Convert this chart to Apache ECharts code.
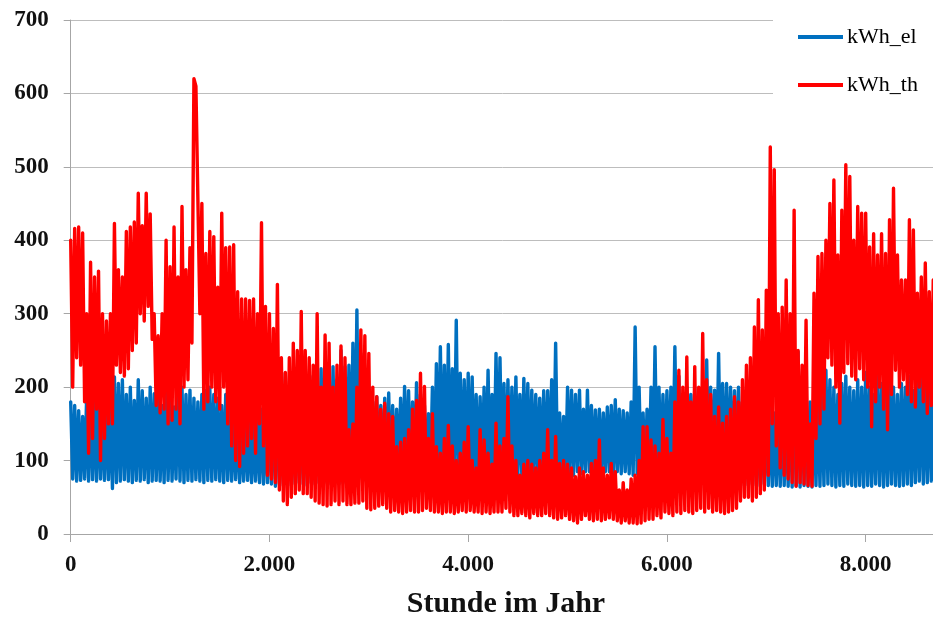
<!DOCTYPE html>
<html>
<head>
<meta charset="utf-8">
<script src="https://cdn.jsdelivr.net/npm/echarts@6/dist/echarts.min.js"></script>
<style>
html,body{margin:0;padding:0;background:#fff;}
#chart{width:933px;height:619px;}
</style>
</head>
<body>
<div id="chart"></div>
<script>
// Per 40-hour window, the peak and the trough of each series.
var windowHours = 40;
var xTicks = [0, 2000, 4000, 6000, 8000];
var yTicks = [0, 100, 200, 300, 400, 500, 600, 700];
var seriesNames = ['kWh_el', 'kWh_th'];

var thHigh = [
  400,416,418,410,300,370,350,358,300,290,
  300,423,360,350,412,418,425,464,420,464,
  436,300,270,300,400,364,418,350,446,360,
  390,620,612,450,382,412,405,336,437,390,
  391,394,330,320,320,318,320,300,424,310,
  300,280,340,240,220,240,260,250,303,250,
  240,230,300,200,271,260,200,230,256,240,
  142,150,200,278,270,246,200,187,170,178,
  164,160,119,125,130,142,170,182,219,201,
  130,164,119,110,130,148,120,100,110,125,
  146,100,90,142,128,110,95,151,120,130,
  187,120,100,80,95,100,95,90,100,110,
  142,100,133,96,100,95,90,78,90,85,
  80,96,100,128,90,80,96,85,60,70,
  60,75,80,100,146,146,128,120,110,156,
  130,110,180,223,200,241,180,228,200,273,
  210,190,160,173,151,160,170,187,180,210,
  230,240,282,319,278,332,527,496,300,309,
  346,300,441,250,230,291,150,328,378,382,
  400,450,482,380,441,503,487,400,446,437,
  437,391,409,380,409,382,428,471,380,346,
  346,428,414,328,350,369,330,346,300
];
var thLow = [
  200,240,230,180,110,130,170,100,130,150,
  150,230,220,215,225,250,260,300,290,310,
  265,175,165,170,150,155,170,150,200,210,
  260,610,300,170,180,200,180,170,200,150,
  120,100,92,110,120,130,110,150,120,80,
  75,70,60,45,40,50,55,60,55,55,
  50,45,42,40,38,40,45,40,45,40,
  40,42,42,45,35,33,35,38,40,35,
  30,32,30,28,30,32,30,30,32,35,
  32,30,30,28,30,30,28,30,32,30,
  32,30,30,28,30,28,30,30,30,35,
  30,25,25,28,25,22,28,25,25,28,
  25,22,20,22,25,20,18,15,20,25,
  20,18,20,18,20,22,20,18,15,18,
  15,15,14,15,18,20,20,25,22,30,
  28,25,30,28,32,30,28,32,35,30,
  35,30,32,30,28,30,32,35,45,50,
  50,45,50,55,60,80,150,120,90,80,
  75,70,65,70,68,66,65,130,150,170,
  240,230,200,151,220,232,215,210,225,210,
  200,146,180,200,170,142,190,223,200,210,
  190,180,173,200,180,164,175,170,180
];
var elHigh = [
  180,175,168,160,185,196,182,187,175,178,
  180,214,205,210,190,200,182,210,195,185,
  200,191,185,175,200,190,173,214,200,190,
  196,185,180,190,196,200,190,185,175,190,
  175,160,165,150,160,155,150,160,170,165,
  190,200,210,180,219,200,190,205,195,210,
  200,215,205,225,210,219,228,210,250,228,
  230,260,305,246,210,200,180,187,175,185,
  192,175,170,185,201,195,180,206,190,175,
  164,200,232,255,230,258,225,291,219,210,
  219,214,190,187,200,223,190,246,240,205,
  210,200,214,190,212,205,196,190,185,195,
  195,210,260,165,160,200,196,190,196,170,
  196,175,169,170,165,173,175,183,170,168,
  165,180,282,200,165,170,200,255,200,190,
  195,200,255,215,190,200,190,200,185,195,
  237,200,196,246,205,205,200,195,200,180,
  190,185,180,175,170,185,175,165,175,180,
  190,210,230,248,200,190,180,175,185,200,
  223,210,200,190,205,215,200,195,210,200,
  220,200,190,215,205,195,210,200,190,205,
  200,215,195,210,220,200,205,190,210
];
var elLow = [
  75,72,73,75,72,74,72,75,73,74,
  62,70,72,74,72,70,73,72,74,70,
  72,73,72,70,73,72,75,72,70,73,
  72,74,72,70,73,72,74,72,70,73,
  72,74,70,72,73,70,72,70,68,70,
  68,65,68,66,68,66,68,70,68,66,
  70,68,70,68,70,68,70,68,70,72,
  70,72,75,72,75,70,75,78,72,75,
  75,78,75,76,78,80,78,80,78,80,
  80,75,78,70,75,78,80,75,80,78,
  80,78,75,80,78,80,78,76,80,78,
  80,78,80,78,80,78,80,80,78,80,
  80,78,80,82,80,82,80,85,82,85,
  85,82,85,82,85,85,80,85,82,85,
  82,80,82,80,78,80,82,80,82,80,
  80,82,80,82,80,82,80,82,80,82,
  80,82,80,82,80,78,75,72,68,66,
  66,68,66,65,68,66,65,66,65,66,
  65,64,66,64,66,65,64,66,65,66,
  68,66,64,66,65,68,66,65,66,64,
  66,65,68,66,64,66,68,66,65,66,
  68,66,70,72,68,70,72,70,74
];

function buildSeriesData(high, low) {
  var out = [];
  for (var k = 0; k < high.length; k++) {
    out.push([k * windowHours, high[k]]);
    out.push([k * windowHours + windowHours / 2, low[k]]);
  }
  return out;
}

function fmtDe(v) {
  if (xTicks.indexOf(v) < 0) return '';
  return String(v).replace(/\B(?=(\d{3})+(?!\d))/g, '.');
}

var serif = 'Liberation Serif, Times New Roman, serif';
var axisGray = '#a6a6a6';

var chart = echarts.init(document.getElementById('chart'), null, {renderer: 'canvas'});
chart.setOption({
  animation: false,
  backgroundColor: '#ffffff',
  grid: {left: 70.7, right: -8.2, top: 20, bottom: 85, containLabel: false, outerBoundsMode: 'none'},
  legend: {
    data: seriesNames,
    orient: 'vertical',
    left: 773, top: 14,
    padding: [12, 30, 8, 25],
    icon: 'rect',
    itemWidth: 45, itemHeight: 4, itemGap: 26,
    backgroundColor: '#ffffff',
    textStyle: {fontFamily: serif, fontSize: 22, color: '#000', padding: [0, 0, 0, -1]}
  },
  xAxis: {
    type: 'value', min: 0, max: 8760, interval: 2000,
    axisLine: {show: true, lineStyle: {color: axisGray, width: 1}},
    axisTick: {show: true, inside: false, length: 8, lineStyle: {color: axisGray}},
    splitLine: {show: false},
    axisLabel: {margin: 20, fontFamily: serif, fontWeight: 'bold', fontSize: 23, color: '#111',
      formatter: fmtDe, showMaxLabel: false},
    name: 'Stunde im Jahr', nameLocation: 'middle', nameGap: 55,
    nameTextStyle: {fontFamily: serif, fontWeight: 'bold', fontSize: 30, color: '#111'}
  },
  yAxis: {
    type: 'value', min: yTicks[0], max: yTicks[yTicks.length - 1], interval: 100,
    axisLine: {show: true, lineStyle: {color: axisGray, width: 1}},
    axisTick: {show: true, inside: false, length: 7, lineStyle: {color: axisGray}},
    splitLine: {show: true, lineStyle: {color: '#bdbdbd', width: 1}},
    axisLabel: {margin: 22, fontFamily: serif, fontWeight: 'bold', fontSize: 23, color: '#111'}
  },
  series: [
    {name: seriesNames[0], type: 'line', symbol: 'none', showSymbol: false,
     data: buildSeriesData(elHigh, elLow),
     lineStyle: {color: '#0070C0', width: 3.4, join: 'round', cap: 'round'},
     itemStyle: {color: '#0070C0'}, z: 2},
    {name: seriesNames[1], type: 'line', symbol: 'none', showSymbol: false,
     data: buildSeriesData(thHigh, thLow),
     lineStyle: {color: '#FF0000', width: 3.4, join: 'round', cap: 'round'},
     itemStyle: {color: '#FF0000'}, z: 3}
  ]
});
</script>
</body>
</html>
